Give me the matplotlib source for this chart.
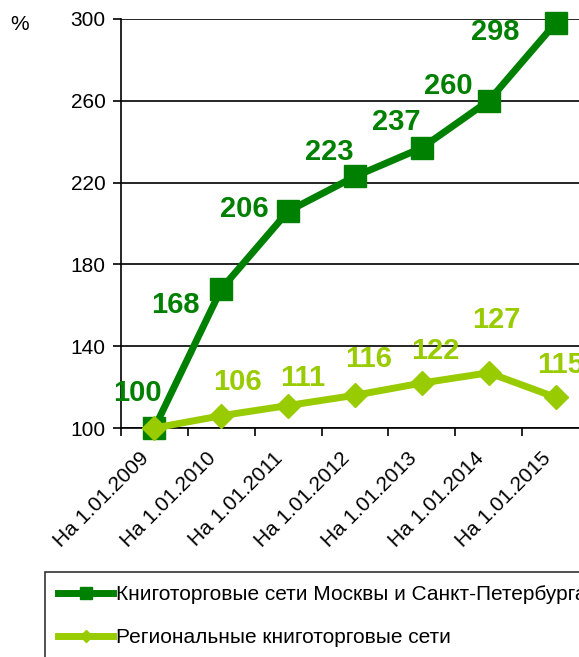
import matplotlib
matplotlib.use("Agg")
import matplotlib.pyplot as plt
from matplotlib.lines import Line2D

plt.rcParams['font.family'] = ['Liberation Sans', 'DejaVu Sans']

categories = ["На 1.01.2009", "На 1.01.2010", "На 1.01.2011", "На 1.01.2012",
              "На 1.01.2013", "На 1.01.2014", "На 1.01.2015"]
moscow_spb = [100, 168, 206, 223, 237, 260, 298]
regional = [100, 106, 111, 116, 122, 127, 115]
y_ticks = [100, 140, 180, 220, 260, 300]
series_names = ["Книготорговые сети Москвы и Санкт-Петербурга",
                "Региональные книготорговые сети"]

dark_green = "#008000"
light_green = "#99CC00"

# label offsets in pixels (dx, dy) relative to each point; None = no label
dark_offsets = [(-17, 35), (-46, -16), (-44, 2), (-26, 24), (-26, 26), (-40, 15), (-60, -9)]
light_offsets = [None, (16, 34), (15, 28), (14, 36), (13, 32), (8, 53), (5, 32)]

W, H = 579, 657
fig = plt.figure(figsize=(W / 100, H / 100), dpi=100)
ax_left, ax_right, ax_top, ax_bottom = 121, 589, 19, 428
ax = fig.add_axes([ax_left / W, 1 - ax_bottom / H, (ax_right - ax_left) / W, (ax_bottom - ax_top) / H])

x = list(range(len(categories)))
ax.plot(x, moscow_spb, color=dark_green, lw=5, marker='s', ms=16, mec=dark_green,
        mfc=dark_green, zorder=4, clip_on=False, solid_joinstyle='miter')
ax.plot(x, regional, color=light_green, lw=5, marker='D', ms=12, mec=light_green,
        mfc=light_green, zorder=5, clip_on=False)

for values, offsets, color in [(moscow_spb, dark_offsets, dark_green),
                               (regional, light_offsets, light_green)]:
    for xi, v, off in zip(x, values, offsets):
        if off is None:
            continue
        dx, dy = off
        ax.annotate(str(v), (xi, v), xytext=(dx * 0.72, dy * 0.72), textcoords='offset points',
                    ha='center', va='center', fontsize=21, fontweight='bold', color=color,
                    zorder=6, annotation_clip=False)

ax.set_xlim(-0.5, len(categories) - 0.5)
ax.set_ylim(100, 300)
ax.set_yticks(y_ticks)
ax.set_yticklabels([str(t) for t in y_ticks], fontsize=15)
ax.yaxis.grid(True, color='black', lw=1.2)
ax.set_axisbelow(True)

# category labels, rotated, ending just left of each category centre
ax.set_xticks(x)
ax.set_xticklabels([])
ax.tick_params(axis='x', which='major', length=0)
for xi, cat in zip(x, categories):
    ax.annotate(cat, (xi, 0), xycoords=ax.get_xaxis_transform(),
                xytext=(-5.8, -19.7), textcoords='offset points',
                rotation=45, ha='right', va='center', rotation_mode='anchor',
                fontsize=15, annotation_clip=False)

ax.set_xticks([i - 0.5 for i in range(len(categories) + 1)], minor=True)
ax.tick_params(axis='x', which='minor', length=6, width=1.2, direction='out')
ax.tick_params(axis='y', length=6, width=1.2, direction='out', pad=5)

for side in ['top', 'right']:
    ax.spines[side].set_visible(False)
for side in ['left', 'bottom']:
    ax.spines[side].set_linewidth(1.2)
    ax.spines[side].set_color('black')

fig.text(20 / W, 1 - 25 / H, "%", fontsize=15, ha='center', va='center')

handles = [
    Line2D([], [], color=dark_green, lw=5, marker='s', ms=8, mfc=dark_green, mec=dark_green),
    Line2D([], [], color=light_green, lw=5, marker='D', ms=6, mfc=light_green, mec=light_green),
]
leg = fig.legend(handles, series_names, loc='upper left',
                 bbox_to_anchor=(45 / W, 1 - 572 / H), fontsize=15, frameon=True,
                 fancybox=False, edgecolor='black', handlelength=2.65, handletextpad=0.15,
                 labelspacing=1.15, borderpad=0.62, borderaxespad=0)
leg.get_frame().set_linewidth(1.2)

fig.savefig("out.png", dpi=100)
